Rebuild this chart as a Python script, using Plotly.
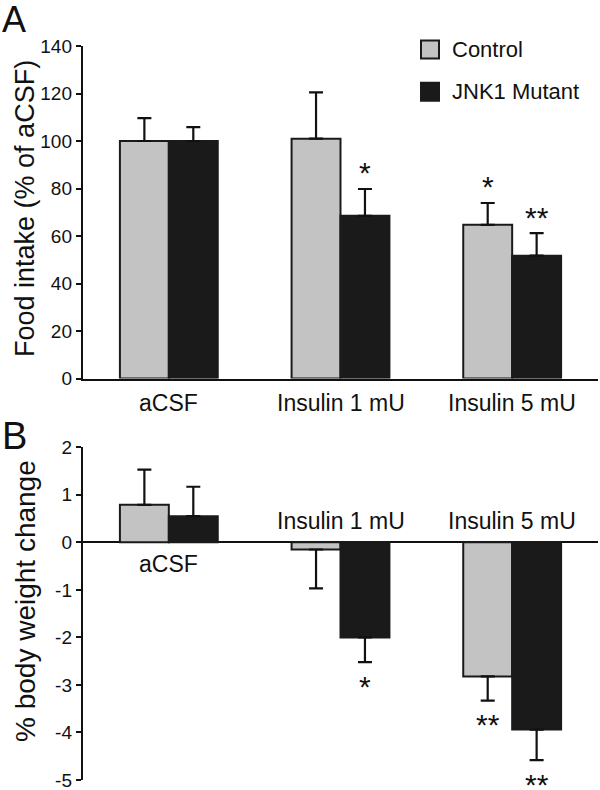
import plotly.graph_objects as go

# ---------------- data ----------------
categories = ["aCSF", "Insulin 1 mU", "Insulin 5 mU"]
series_names = ["Control", "JNK1 Mutant"]

food_control = [100, 101, 64.7]
food_control_err = [9.6, 19.5, 9.2]
food_mutant = [100, 68.5, 51.7]
food_mutant_err = [5.8, 11.3, 9.5]

weight_control = [0.79, -0.15, -2.82]
weight_control_err = [0.74, 0.82, 0.51]
weight_mutant = [0.55, -2.0, -3.94]
weight_mutant_err = [0.62, 0.52, 0.64]

food_ticks = [0, 20, 40, 60, 80, 100, 120, 140]
food_tick_labels = ["0", "20", "40", "60", "80", "100", "120", "140"]
weight_ticks = [-5, -4, -3, -2, -1, 0, 1, 2]
weight_tick_labels = ["-5", "-4", "-3", "-2", "-1", "0", "1", "2"]

# significance marks: (category index, series index, text)
sig_food = [(1, 1, "*"), (2, 0, "*"), (2, 1, "**")]
sig_weight = [(1, 1, "*"), (2, 0, "**"), (2, 1, "**")]

# ---------------- style ----------------
FONT = "Liberation Sans, Arial, sans-serif"
NARROW = "Liberation Sans Narrow, Liberation Sans, Arial, sans-serif"
C_CTRL = "#c3c3c3"
C_MUT = "#1a1a1a"
EDGE = "#1a1a1a"
INK = "#111111"
BARGAP = 0.43
HALF = (1 - BARGAP) / 4  # offset of each bar centre from category centre


def err_kw(vals, errs):
    up = [e if v >= 0 else 0 for v, e in zip(vals, errs)]
    dn = [e if v < 0 else 0 for v, e in zip(vals, errs)]
    return dict(type="data", symmetric=False, array=up, arrayminus=dn,
                color=INK, thickness=2.2, width=7)


fig = go.Figure()
for vals, errs, name, col, xa, ya in [
    (food_control, food_control_err, series_names[0], C_CTRL, "x", "y"),
    (food_mutant, food_mutant_err, series_names[1], C_MUT, "x", "y"),
    (weight_control, weight_control_err, series_names[0], C_CTRL, "x2", "y2"),
    (weight_mutant, weight_mutant_err, series_names[1], C_MUT, "x2", "y2"),
]:
    fig.add_trace(go.Bar(
        x=categories, y=vals, name=name, xaxis=xa, yaxis=ya,
        marker=dict(color=col, line=dict(color=EDGE, width=2)),
        error_y=err_kw(vals, errs), showlegend=False, hoverinfo="skip",
    ))

xdom = [83 / 600, 598 / 600]
ydomA = [1 - 378.5 / 790, 1 - 46 / 790]
ydomB = [1 - 780 / 790, 1 - 447.3 / 790]

yaxis_common = dict(ticks="outside", ticklen=5, tickwidth=2, tickcolor=INK,
                    tickfont=dict(family=NARROW, size=19, color=INK),
                    ticklabeloverflow="allow",
                    showline=True, linecolor=INK, linewidth=2.2, showgrid=False,
                    automargin=False)

fig.update_layout(
    width=600, height=790,
    margin=dict(l=0, r=0, t=0, b=0, autoexpand=False),
    paper_bgcolor="white", plot_bgcolor="white",
    barmode="group", bargap=BARGAP, bargroupgap=0,
    font=dict(family=FONT, color=INK),
    xaxis=dict(domain=xdom, anchor="y", range=[-0.5, 2.5], showticklabels=False,
               ticks="", showline=True, linecolor=INK, linewidth=2.2,
               showgrid=False, zeroline=False, automargin=False),
    yaxis=dict(domain=ydomA, anchor="x", range=[0, 140], tickvals=food_ticks,
               ticktext=food_tick_labels, zeroline=False, **yaxis_common),
    xaxis2=dict(domain=xdom, anchor="y2", range=[-0.5, 2.5], showticklabels=False,
                ticks="", showline=False, showgrid=False, zeroline=False,
                automargin=False),
    yaxis2=dict(domain=ydomB, anchor="x2", range=[-5, 2], tickvals=weight_ticks,
                ticktext=weight_tick_labels,
                zeroline=True, zerolinecolor=INK, zerolinewidth=2.2,
                **yaxis_common),
)

ann = []
# panel letters
ann.append(dict(text="A", x=0.0, y=1 - 19 / 790, xref="paper", yref="paper",
                xanchor="left", yanchor="middle", showarrow=False,
                font=dict(size=36, color=INK)))
ann.append(dict(text="B", x=0.0, y=1 - 436 / 790, xref="paper", yref="paper",
                xanchor="left", yanchor="middle", showarrow=False,
                font=dict(size=38, color=INK)))
# y titles
ann.append(dict(text="Food intake (% of aCSF)", x=25 / 600, y=1 - 209 / 790,
                xref="paper", yref="paper", textangle=-90, showarrow=False,
                xanchor="center", yanchor="middle", font=dict(size=27, color=INK)))
ann.append(dict(text="% body weight change", x=25 / 600, y=1 - 601 / 790,
                xref="paper", yref="paper", textangle=-90, showarrow=False,
                xanchor="center", yanchor="middle", font=dict(size=28, color=INK)))
# category labels panel A (below axis)
for i, c in enumerate(categories):
    ann.append(dict(text=c, x=i, y=0, xref="x", yref="y", yshift=-24,
                    showarrow=False, xanchor="center", yanchor="middle",
                    font=dict(size=23, color=INK)))
# category labels panel B
for i, c in enumerate(categories):
    below = i == 0
    ann.append(dict(text=c, x=i, y=0, xref="x2", yref="y2",
                    yshift=-22 if below else 21,
                    showarrow=False, xanchor="center", yanchor="middle",
                    font=dict(size=23, color=INK)))
# significance stars
for ci, si, t in sig_food:
    vals = [food_control, food_mutant][si]
    errs = [food_control_err, food_mutant_err][si]
    xo = ci + (-HALF if si == 0 else HALF)
    ann.append(dict(text=t, x=xo, y=vals[ci] + errs[ci], xref="x", yref="y",
                    yshift=16, showarrow=False, xanchor="center", yanchor="middle",
                    font=dict(size=30, color=INK)))
for ci, si, t in sig_weight:
    vals = [weight_control, weight_mutant][si]
    errs = [weight_control_err, weight_mutant_err][si]
    xo = ci + (-HALF if si == 0 else HALF)
    ann.append(dict(text=t, x=xo, y=vals[ci] - errs[ci], xref="x2", yref="y2",
                    yshift=-24, showarrow=False, xanchor="center", yanchor="middle",
                    font=dict(size=30, color=INK)))
# legend (drawn manually to match the boxed swatches)
leg_y = [49.5, 91.7]
shapes = []
for name, col, yc in zip(series_names, [C_CTRL, C_MUT], leg_y):
    shapes.append(dict(type="rect", xref="paper", yref="paper",
                       x0=421 / 600, x1=439 / 600,
                       y0=1 - (yc + 9) / 790, y1=1 - (yc - 9) / 790,
                       fillcolor=col, line=dict(color=EDGE, width=2)))
    ann.append(dict(text=name, x=450 / 600, y=1 - yc / 790, xref="paper",
                    yref="paper", xanchor="left", yanchor="middle",
                    showarrow=False, font=dict(size=22, color=INK)))

fig.update_layout(annotations=ann, shapes=shapes)
fig.write_html(
    "out.html",
    config={"displayModeBar": False, "staticPlot": True},
    post_script="document.body.style.margin='0';document.body.style.overflow='hidden';",
)
